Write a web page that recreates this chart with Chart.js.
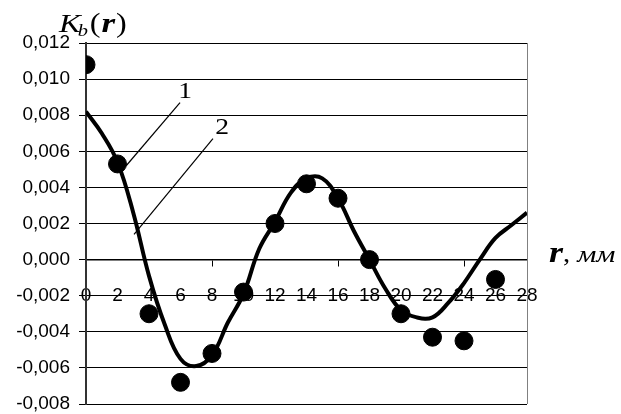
<!DOCTYPE html>
<html>
<head>
<meta charset="utf-8">
<script src="https://cdn.jsdelivr.net/npm/chart.js@4/dist/chart.umd.min.js"></script>
<style>
  body { margin: 0; background: #fff; }
  #wrap { width: 621px; height: 414px; }
</style>
</head>
<body>
<div id="wrap"><canvas id="chart" width="621" height="414"></canvas></div>
<script>
// curve 1 (smooth), read every 1 mm
const rLine = [0,1,2,3,4,5,6,7,8,9,10,11,12,13,14,15,16,17,18,19,20,21,22,23,24,25,26,27,28];
const kLine = [0.0082,0.0070,0.0054,0.0026,-0.0009,-0.0036,-0.0055,-0.0059,-0.0053,-0.0035,-0.0019,0.0006,0.0021,0.0037,0.0045,0.0045,0.0034,0.0016,0.0000,-0.0016,-0.0028,-0.0032,-0.0032,-0.0024,-0.0013,0.0000,0.0012,0.0019,0.0026];
// measured points (2)
const rPts = [0,2,4,6,8,10,12,14,16,18,20,22,24,26];
const kPts = [0.0108,0.0053,-0.0030,-0.0068,-0.0052,-0.0018,0.0020,0.0042,0.0034,0.0000,-0.0030,-0.0043,-0.0045,-0.0011];

// leader lines for labels "1" and "2", in data units
const callouts = [
  { text: '1', from: [2.55, 0.0052], to: [5.97, 0.0087], label: [6.3, 0.0093] },
  { text: '2', from: [3.05, 0.0014], to: [8.06, 0.0067], label: [8.65, 0.0073] }
];

function stretchedText(ctx, txt, x, y, font, sx) {
  ctx.save();
  ctx.translate(x, y);
  ctx.scale(sx, 1);
  ctx.font = font;
  ctx.fillText(txt, 0, 0);
  ctx.restore();
  ctx.font = font;
  return ctx.measureText(txt).width * sx;
}

const extras = {
  id: 'extras',
  afterDraw(chart) {
    const ctx = chart.ctx;
    const xs = chart.scales.x, ys = chart.scales.y;
    const a = chart.chartArea;
    ctx.save();
    // right frame line
    ctx.strokeStyle = '#808080';
    ctx.lineWidth = 1;
    ctx.beginPath();
    ctx.moveTo(a.right + 0.5, a.top);
    ctx.lineTo(a.right + 0.5, a.bottom);
    ctx.stroke();

    // callouts
    ctx.strokeStyle = '#000';
    ctx.fillStyle = '#000';
    ctx.lineWidth = 1.2;
    ctx.textBaseline = 'middle';
    callouts.forEach(c => {
      ctx.beginPath();
      ctx.moveTo(xs.getPixelForValue(c.from[0]), ys.getPixelForValue(c.from[1]));
      ctx.lineTo(xs.getPixelForValue(c.to[0]), ys.getPixelForValue(c.to[1]));
      ctx.stroke();
      ctx.textAlign = 'center';
      stretchedText(ctx, c.text, xs.getPixelForValue(c.label[0]), ys.getPixelForValue(c.label[1]),
        '24px "Liberation Serif"', 1.15);
    });

    // title K_b(r)
    ctx.textAlign = 'left';
    ctx.textBaseline = 'alphabetic';
    let x = 59;
    x += stretchedText(ctx, 'K', x, 32, 'italic 26px "Liberation Serif"', 1.25);
    stretchedText(ctx, 'b', x - 3, 36, 'italic 17px "Liberation Serif"', 1.2);
    x += 9;
    x += stretchedText(ctx, '(', x, 32, '28px "Liberation Serif"', 1.15) + 1;
    x += stretchedText(ctx, 'r', x, 32, 'italic bold 28px "Liberation Serif"', 1.25) + 1;
    stretchedText(ctx, ')', x, 32, '28px "Liberation Serif"', 1.15);

    // axis name r, мм
    x = 549;
    x += stretchedText(ctx, 'r', x, 262, 'italic bold 30px "Liberation Serif"', 1.2);
    x += stretchedText(ctx, ',', x, 262, '26px "Liberation Serif"', 1.1) + 7;
    stretchedText(ctx, 'мм', x, 262, 'italic 24px "Liberation Serif"', 1.25);
    ctx.restore();
  }
};

new Chart(document.getElementById('chart'), {
  type: 'scatter',
  data: {
    datasets: [
      {
        label: '1',
        data: rLine.map((r, i) => ({ x: r, y: kLine[i] })),
        showLine: true,
        borderColor: '#000',
        borderWidth: 4,
        pointRadius: 0,
        tension: 0.4,
        order: 2
      },
      {
        label: '2',
        data: rPts.map((r, i) => ({ x: r, y: kPts[i] })),
        showLine: false,
        backgroundColor: '#000',
        borderColor: '#000',
        pointRadius: 9,
        order: 1
      }
    ]
  },
  options: {
    responsive: false,
    devicePixelRatio: 1,
    animation: false,
    layout: { padding: { top: 43, right: 94, bottom: 10, left: 0 } },
    plugins: { legend: { display: false }, tooltip: { enabled: false } },
    scales: {
      x: {
        type: 'linear',
        position: { y: 0 },
        min: 0,
        max: 28,
        ticks: {
          stepSize: 2,
          color: '#000',
          padding: 19,
          maxRotation: 0,
          font: { family: '"Liberation Sans", Arial', size: 19 }
        },
        grid: {
          drawOnChartArea: false,
          drawTicks: true,
          tickLength: 6,
          color: c => (c.tick && c.tick.value % 8 === 0 && c.tick.value > 0) ? '#000' : 'rgba(0,0,0,0)'
        },
        border: { display: true, color: '#000', width: 1.5 }
      },
      y: {
        min: -0.008,
        max: 0.012,
        afterFit: s => { s.width = 86; s.paddingTop = 0; s.paddingBottom = 0; },
        ticks: {
          stepSize: 0.002,
          color: '#000',
          padding: 9,
          font: { family: '"Liberation Sans", Arial', size: 19 },
          callback: v => v.toFixed(3).replace('.', ',')
        },
        grid: { color: '#000', lineWidth: 1, tickLength: 7 },
        border: { display: true, color: '#333', width: 2 }
      }
    }
  },
  plugins: [extras]
});
</script>
</body>
</html>
